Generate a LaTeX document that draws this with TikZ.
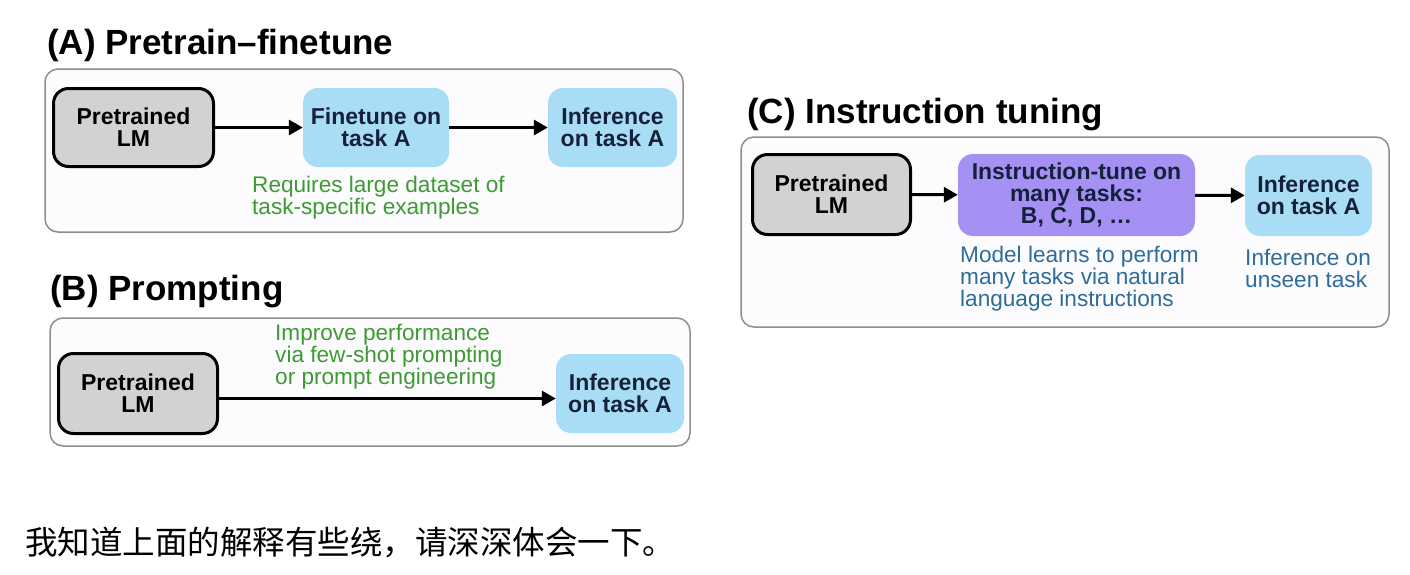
\documentclass[tikz,border=0pt]{standalone}
\usepackage{fontspec}
\setmainfont{Liberation Sans}
\newfontfamily\cjk{Noto Sans CJK SC}
\usetikzlibrary{arrows.meta, positioning}

\definecolor{lmgray}{HTML}{D2D2D2}
\definecolor{taskblue}{HTML}{A8DDF5}
\definecolor{tunepurple}{HTML}{A590F4}
\definecolor{notegreen}{HTML}{3E9A33}
\definecolor{noteblue}{HTML}{2F6C99}
\definecolor{panelline}{HTML}{8E8E8E}
\definecolor{panelfill}{HTML}{FCFCFE}
\definecolor{boxtext}{HTML}{15213A}

\newcommand{\boxfont}{\bfseries\fontsize{23}{22}\selectfont}

\tikzset{
  panel/.style={draw=panelline, line width=1.5pt, fill=panelfill, rounded corners=13pt},
  lmbox/.style={draw=black, line width=3pt, fill=lmgray, rounded corners=15pt, align=center, font=\boxfont, inner sep=0pt},
  taskbox/.style={fill=taskblue, rounded corners=15pt, align=center, font=\boxfont, text=boxtext, inner sep=0pt},
  tunebox/.style={taskbox, fill=tunepurple},
  title/.style={anchor=west, font=\bfseries\fontsize{35}{36}\selectfont, inner sep=0pt},
  note/.style={anchor=west, align=left, font=\fontsize{22.6}{22}\selectfont, inner sep=0pt},
  flow/.style={->, line width=3pt},
}

\begin{document}
\begin{tikzpicture}[x=1pt, y=-1pt, >={Triangle[length=14pt,width=15pt]}]
        \useasboundingbox[fill=white] (0,0) rectangle (1410,574);

        % (A) Pretrain-finetune
        \node[title] (titleA) at (47,45) {(A) Pretrain--finetune};
        \draw[panel] (45,69) rectangle (683,232);
        \node[lmbox, minimum width=160, minimum height=78] (lmA) at (133.5,127.5) {Pretrained\\LM};
        \node[taskbox, minimum width=146, minimum height=79] (ftA) at (376,127.5) {Finetune on\\task A};
        \node[taskbox, minimum width=129, minimum height=79] (infA) at (612.5,127.5) {Inference\\on task A};
        \draw[flow] (lmA) -- (ftA);
        \draw[flow] (ftA) -- (infA);
        \node[note, text=notegreen] (noteA) at (252,198) {Requires large dataset of\\task-specific examples};

        % (B) Prompting
        \node[title] (titleB) at (50,292) {(B) Prompting};
        \draw[panel] (50,318) rectangle (690,446);
        \node[lmbox, minimum width=159, minimum height=80] (lmB) at (138,393.5) {Pretrained\\LM};
        \node[taskbox, minimum width=128, minimum height=79] (infB) at (620,393.5) {Inference\\on task A};
        \draw[flow] ([yshift=-5]lmB.east) -- ([yshift=-5]infB.west);
        \node[note, text=notegreen] (noteB) at (275,357) {Improve performance\\via few-shot prompting\\or prompt engineering};

        % (C) Instruction tuning
        \node[title] (titleC) at (747,115) {(C) Instruction tuning};
        \draw[panel] (741,137) rectangle (1389,327);
        \node[lmbox, minimum width=158, minimum height=80] (lmC) at (831.5,194.5) {Pretrained\\LM};
        \node[tunebox, minimum width=237, minimum height=82] (tuneC) at (1076.5,195) {Instruction-tune on\\many tasks:\\B, C, D, \dots};
        \node[taskbox, minimum width=127, minimum height=81] (infC) at (1308.5,195.5) {Inference\\on task A};
        \draw[flow] (lmC) -- (tuneC);
        \draw[flow] (tuneC) -- (infC);
        \node[note, text=noteblue] (noteC) at (960,279) {Model learns to perform\\many tasks via natural\\language instructions};
        \node[note, text=noteblue] (unseenC) at (1245,268) {Inference on\\unseen task};

        % remark below
        \node[anchor=west, inner sep=0pt, font=\cjk\fontsize{32.5}{33}\selectfont] (remark) at (25,543) {我知道上面的解释有些绕，请深深体会一下。};
\end{tikzpicture}
\end{document}
